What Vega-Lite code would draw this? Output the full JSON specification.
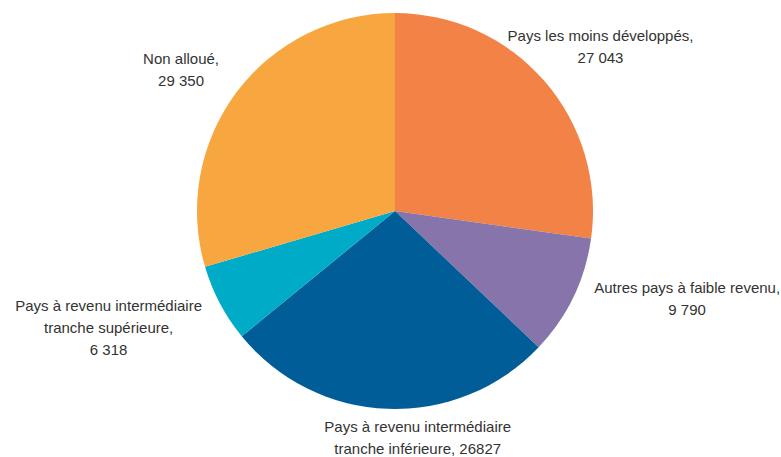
{
  "$schema": "https://vega.github.io/schema/vega-lite/v6.json",
  "autosize": "none",
  "width": 772,
  "height": 422,
  "padding": {"left": 9, "right": 0, "top": 0, "bottom": 35},
  "background": "white",
  "config": {"view": {"stroke": null}, "text": {"font": "Liberation Sans", "fontSize": 15, "fill": "#333333", "lineBreak": "\n", "lineHeight": 22}},
  "data": {"values": [
    {"cat": "PMD", "order": 1, "value": 27043, "label": "Pays les moins développés,\n27 043"},
    {"cat": "APFR", "order": 2, "value": 9790, "label": "Autres pays à faible revenu,\n9 790"},
    {"cat": "PRITI", "order": 3, "value": 26827, "label": "Pays à revenu intermédiaire\ntranche inférieure, 26827"},
    {"cat": "PRITS", "order": 4, "value": 6318, "label": "Pays à revenu intermédiaire\ntranche supérieure,\n6 318"},
    {"cat": "NA", "order": 5, "value": 29350, "label": "Non alloué,\n29 350"}
  ]},
  "encoding": {
    "theta": {"field": "value", "type": "quantitative", "stack": true},
    "order": {"field": "order", "type": "quantitative"}
  },
  "layer": [
    {
      "mark": {"type": "arc", "radius": 198},
      "encoding": {
        "color": {"field": "cat", "type": "nominal", "legend": null,
          "scale": {"domain": ["PMD", "APFR", "PRITI", "PRITS", "NA"], "range": ["#F38246", "#8674AA", "#005D98", "#00ABC7", "#F8A640"]}}
      }
    },
    {
      "mark": {"type": "text", "radius": 263, "dx": 7, "dy": -2, "align": "center", "baseline": "middle"},
      "encoding": {"text": {"condition": {"test": "datum.cat === 'PMD'", "field": "label"}, "value": ""}}
    },
    {
      "mark": {"type": "text", "radius": 301, "dx": 21, "dy": -54, "align": "center", "baseline": "middle"},
      "encoding": {"text": {"condition": {"test": "datum.cat === 'APFR'", "field": "label"}, "value": ""}}
    },
    {
      "mark": {"type": "text", "radius": 226, "dx": 31, "dy": -10, "align": "center", "baseline": "middle"},
      "encoding": {"text": {"condition": {"test": "datum.cat === 'PRITI'", "field": "label"}, "value": ""}}
    },
    {
      "mark": {"type": "text", "radius": 308, "dx": -14, "dy": -49, "align": "center", "baseline": "middle"},
      "encoding": {"text": {"condition": {"test": "datum.cat === 'PRITS'", "field": "label"}, "value": ""}}
    },
    {
      "mark": {"type": "text", "radius": 256, "dx": -9, "dy": 1, "align": "center", "baseline": "middle"},
      "encoding": {"text": {"condition": {"test": "datum.cat === 'NA'", "field": "label"}, "value": ""}}
    }
  ]
}
